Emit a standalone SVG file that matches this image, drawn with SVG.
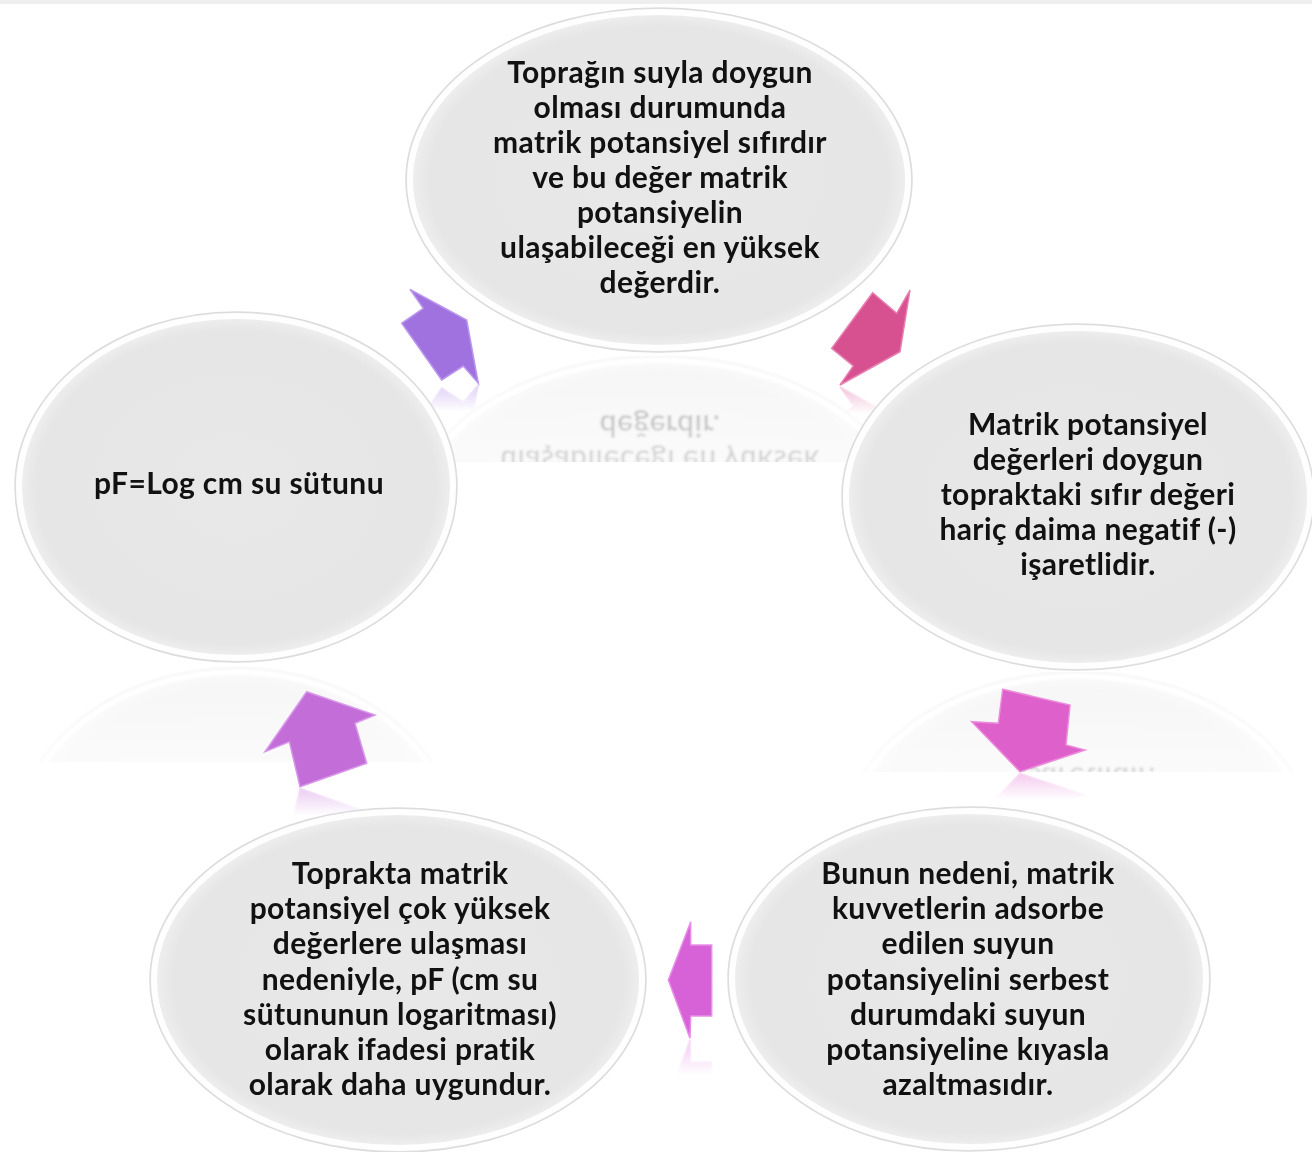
<svg xmlns="http://www.w3.org/2000/svg" xmlns:xlink="http://www.w3.org/1999/xlink" width="1312" height="1152" viewBox="0 0 1312 1152">
<style>
.bg{fill:#e9e9e9;stroke:#dcdcdc;stroke-width:1.5}
.rim{fill:none;stroke:#ffffff;stroke-width:6;stroke-opacity:0.95}
.t{font-family:"Lato","Open Sans","Liberation Sans",sans-serif;font-weight:700;font-size:30px;letter-spacing:0.4px;fill:#111111;text-anchor:middle}
.arr{stroke-width:1.5;stroke-linejoin:miter}
</style>
<defs>
<linearGradient id="fade" x1="0" y1="0" x2="0" y2="1">
<stop offset="0" stop-color="#fff" stop-opacity="0.38"/>
<stop offset="1" stop-color="#fff" stop-opacity="0.18"/>
</linearGradient>
<linearGradient id="fadeA" x1="0" y1="0" x2="0" y2="1">
<stop offset="0" stop-color="#fff" stop-opacity="0.35"/>
<stop offset="1" stop-color="#fff" stop-opacity="0"/>
</linearGradient>
<radialGradient id="inner" cx="0.5" cy="0.5" r="0.5">
<stop offset="0" stop-color="#e8e8e8"/>
<stop offset="0.93" stop-color="#e6e6e6"/>
<stop offset="1" stop-color="#eeeeee"/>
</radialGradient>
<filter id="soft" x="-5%" y="-5%" width="110%" height="110%"><feGaussianBlur stdDeviation="1.2"/></filter>
<mask id="m1" maskUnits="userSpaceOnUse" x="0" y="0" width="1312" height="1152"><rect x="380" y="356" width="560" height="106" fill="url(#fade)"/></mask>
<mask id="m5" maskUnits="userSpaceOnUse" x="0" y="0" width="1312" height="1152"><rect x="0" y="666" width="480" height="96" fill="url(#fade)"/></mask>
<mask id="m2" maskUnits="userSpaceOnUse" x="0" y="0" width="1312" height="1152"><rect x="830" y="672" width="482" height="100" fill="url(#fade)"/></mask>
<mask id="ma" maskUnits="userSpaceOnUse" x="0" y="0" width="1312" height="1152">
<rect x="820" y="386" width="100" height="28" fill="url(#fadeA)"/>
<rect x="390" y="384" width="100" height="28" fill="url(#fadeA)"/>
<rect x="960" y="772" width="130" height="28" fill="url(#fadeA)"/>
<rect x="660" y="1039" width="60" height="36" fill="url(#fadeA)"/>
<rect x="255" y="788" width="120" height="28" fill="url(#fadeA)"/>
</mask>
</defs>
<rect x="0" y="0" width="1312" height="1152" fill="#ffffff"/>
<rect x="0" y="0" width="1312" height="4" fill="#eeeeee"/>

<g id="reflections">
<g mask="url(#m1)"><g transform="translate(0,708) scale(1,-1)" filter="url(#soft)"><use xlink:href="#n1"/></g></g>
<g mask="url(#m5)"><g transform="translate(0,1330) scale(1,-1)" filter="url(#soft)"><use xlink:href="#n5"/></g></g>
<g mask="url(#m2)"><g transform="translate(0,1342) scale(1,-1)" filter="url(#soft)"><use xlink:href="#n2"/></g></g>
<g mask="url(#ma)">
<g transform="translate(0,772) scale(1,-1)"><use xlink:href="#a1"/></g>
<g transform="translate(0,768) scale(1,-1)"><use xlink:href="#a5"/></g>
<g transform="translate(0,1545) scale(1,-1)"><use xlink:href="#a2"/></g>
<g transform="translate(0,2078) scale(1,-1)"><use xlink:href="#a3"/></g>
<g transform="translate(0,1575) scale(1,-1)"><use xlink:href="#a4"/></g>
</g>
</g>

<g id="n1">
<ellipse class="bg" cx="659" cy="180" rx="253" ry="172"/>
<ellipse cx="659" cy="180" rx="247" ry="166" fill="url(#inner)"/>
<ellipse class="rim" cx="659" cy="180" rx="249" ry="168"/>
<text class="t" x="660" y="83">Toprağın suyla doygun</text>
<text class="t" x="660" y="118">olması durumunda</text>
<text class="t" x="660" y="153">matrik potansiyel sıfırdır</text>
<text class="t" x="660" y="188">ve bu değer matrik</text>
<text class="t" x="660" y="223">potansiyelin</text>
<text class="t" x="660" y="258">ulaşabileceği en yüksek</text>
<text class="t" x="660" y="293">değerdir.</text>
</g>

<g id="n2">
<ellipse class="bg" cx="1078" cy="497" rx="236" ry="173"/>
<ellipse cx="1078" cy="497" rx="230" ry="167" fill="url(#inner)"/>
<ellipse class="rim" cx="1078" cy="497" rx="232" ry="169"/>
<text class="t" x="1088" y="435">Matrik potansiyel</text>
<text class="t" x="1088" y="470">değerleri doygun</text>
<text class="t" x="1088" y="505">topraktaki sıfır değeri</text>
<text class="t" x="1088" y="540">hariç daima negatif (-)</text>
<text class="t" x="1088" y="575">işaretlidir.</text>
</g>

<g id="n3">
<ellipse class="bg" cx="969" cy="979" rx="241" ry="172"/>
<ellipse cx="969" cy="979" rx="235" ry="166" fill="url(#inner)"/>
<ellipse class="rim" cx="969" cy="979" rx="237" ry="168"/>
<text class="t" x="968" y="884">Bunun nedeni, matrik</text>
<text class="t" x="968" y="919">kuvvetlerin adsorbe</text>
<text class="t" x="968" y="954">edilen suyun</text>
<text class="t" x="968" y="990">potansiyelini serbest</text>
<text class="t" x="968" y="1025">durumdaki suyun</text>
<text class="t" x="968" y="1060">potansiyeline kıyasla</text>
<text class="t" x="968" y="1095">azaltmasıdır.</text>
</g>

<g id="n4">
<ellipse class="bg" cx="398" cy="980" rx="248" ry="172"/>
<ellipse cx="398" cy="980" rx="242" ry="166" fill="url(#inner)"/>
<ellipse class="rim" cx="398" cy="980" rx="244" ry="168"/>
<text class="t" x="400" y="884">Toprakta matrik</text>
<text class="t" x="400" y="919">potansiyel çok yüksek</text>
<text class="t" x="400" y="954">değerlere ulaşması</text>
<text class="t" x="400" y="990">nedeniyle, pF (cm su</text>
<text class="t" x="400" y="1025">sütununun logaritması)</text>
<text class="t" x="400" y="1060">olarak ifadesi pratik</text>
<text class="t" x="400" y="1095">olarak daha uygundur.</text>
</g>

<g id="n5">
<ellipse class="bg" cx="236" cy="487" rx="221" ry="175"/>
<ellipse cx="236" cy="487" rx="215" ry="169" fill="url(#inner)"/>
<ellipse class="rim" cx="236" cy="487" rx="217" ry="171"/>
<text class="t" x="239" y="494">pF=Log cm su sütunu</text>
</g>

<g id="connectors">
<polygon id="a1" class="arr" points="872.7,292.7 896.7,313.3 910,290 900,351.7 840,385 853.3,366 831.7,348.3" fill="#d7508f" stroke="#e77fb0"/>
<polygon id="a2" class="arr" points="1002.7,689.3 1070,705 1066,745 1085,750 1020,771.7 971.7,721.7 998.3,723.3" fill="#de60ca" stroke="#ec8cdc"/>
<polygon id="a3" class="arr" points="690.7,921.7 690.7,945 711.7,945 711.7,1016 690.7,1016 690,1038.3 668.3,980" fill="#d762d8" stroke="#e890e8"/>
<polygon id="a4" class="arr" points="306.7,691.7 375,715 355,723.3 366.7,763.3 300,786.7 289.3,741.7 265,751.7" fill="#c36dd9" stroke="#d898ea"/>
<polygon id="a5" class="arr" points="410,289.3 466.7,320 478.3,383.3 463.3,366 441.7,380 401.7,323.3 423.3,308.3" fill="#a072e0" stroke="#bb98ee"/>
</g>
</svg>
